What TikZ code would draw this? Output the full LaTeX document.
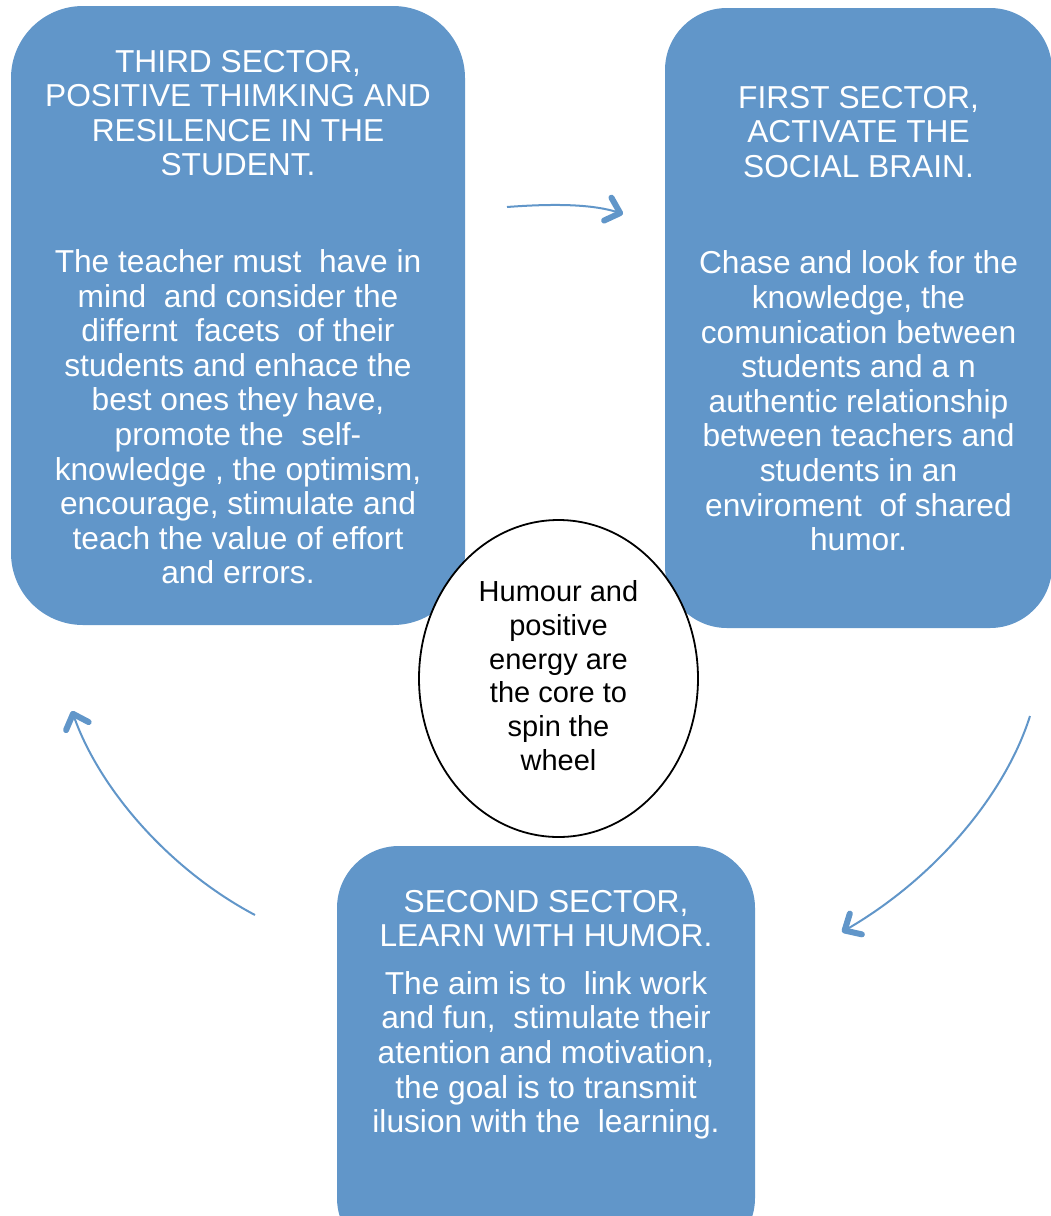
\documentclass[tikz,border=0pt]{standalone}
\usepackage{fontspec}
\setmainfont{Liberation Sans}
\usetikzlibrary{arrows.meta,shapes.geometric,positioning}
\definecolor{sectorblue}{RGB}{97,150,201}
\tikzset{
  sector/.style={fill=sectorblue, rounded corners=#1, inner sep=0pt},
  sector/.default=62pt,
  sectortext/.style={text=white, align=center, inner sep=0pt, font=\fontsize{31.7}{34.6}\selectfont},
  core/.style={ellipse, draw=black, line width=1.8pt, fill=white, minimum width=279pt, minimum height=317pt, inner sep=0pt, text depth=6pt, align=center, font=\fontsize{29}{33.8}\selectfont},
  flow/.style={draw=sectorblue, line width=2pt, -{Straight Barb[length=13pt,width=24pt,line width=6pt,round]}}
}
\begin{document}
\begin{tikzpicture}[x=1pt, y=-1pt]
\useasboundingbox (0,0) rectangle (1051,1216);
\clip (0,0) rectangle (1051,1216);
% sectors
\node[sector=72pt, minimum width=454pt, minimum height=619pt](third) at (238,315.5){};
\node[sector, minimum width=387pt, minimum height=620pt](first) at (858.5,318){};
\node[sector, minimum width=418pt, minimum height=414pt](second) at (546,1053){};
\node[sectortext, below=44pt of third.north](thirdtxt){THIRD SECTOR,\\POSITIVE THIMKING AND\\RESILENCE IN THE\\STUDENT.\\[62pt]
The teacher must~ have in\\mind~ and consider the\\differnt~ facets~ of their\\students and enhace the\\best ones they have,\\promote the~ self-\\knowledge , the optimism,\\encourage, stimulate and\\teach the value of effort\\and errors.};
\node[sectortext, below=78pt of first.north](firsttxt){FIRST SECTOR,\\ACTIVATE THE\\SOCIAL BRAIN.\\[62pt]
Chase and look for the\\knowledge, the\\comunication between\\students and a n\\authentic relationship\\between teachers and\\students in an\\enviroment~ of shared\\humor.};
\node[sectortext, below=44pt of second.north](secondtxt){SECOND SECTOR,\\LEARN WITH HUMOR.\\[13pt]
The aim is to~ link work\\and fun,~ stimulate their\\atention and motivation,\\the goal is to transmit\\ilusion with the~ learning.};
% centre
\node[core](hub) at (558.5,678.5){Humour and\\positive\\energy are\\the core to\\spin the\\wheel};
% wheel arrows
\coordinate (t1) at (507,207);
\coordinate (t2) at (623,214);
\coordinate (r1) at (1030,716);
\coordinate (r2) at (842,932);
\coordinate (l1) at (255,915);
\coordinate (l2) at (72,711);
\draw[flow](t1) .. controls (560,203) and (595,205) .. (t2);
\draw[flow](r1) .. controls (1005,795) and (935,878) .. (r2);
\draw[flow](l1) .. controls (170,870) and (100,790) .. (l2);
\end{tikzpicture}
\end{document}
